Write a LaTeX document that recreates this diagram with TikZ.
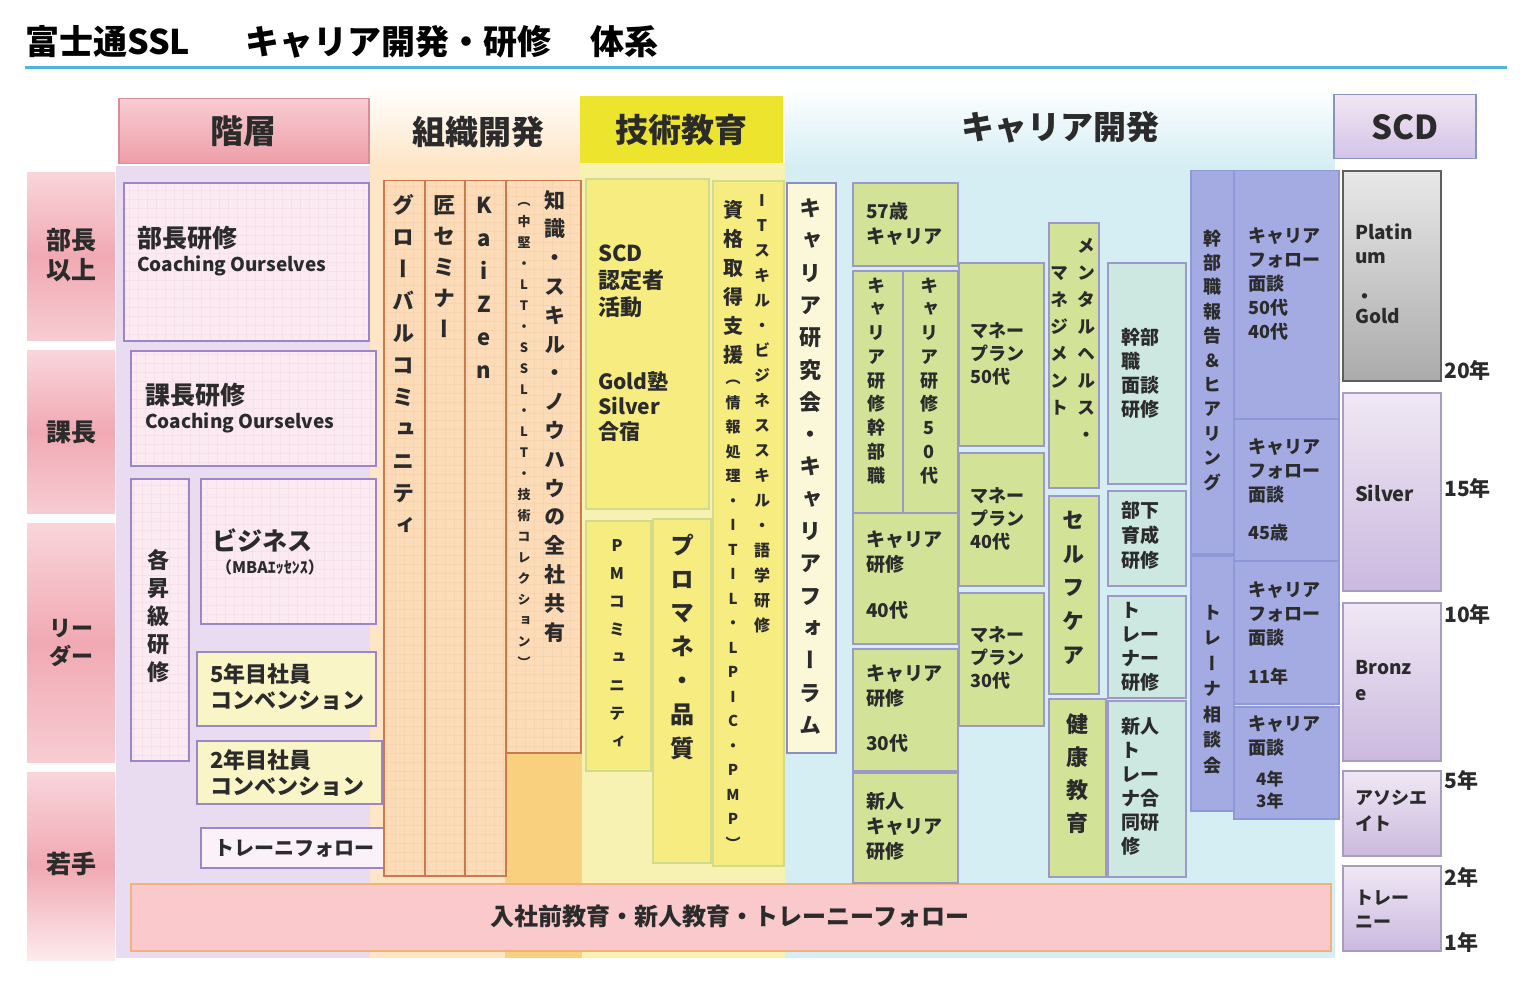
\documentclass[tikz,border=0pt]{standalone}
\usepackage{fontspec}
\setmainfont{Noto Sans CJK JP}
\newfontfamily\jpv{Noto Sans CJK JP}[RawFeature=+vert]
\newcommand\fs[2]{\fontsize{#1}{#2}\selectfont}
\makeatletter
\newcommand\vt[2]{\vbox{\baselineskip=#1\lineskiplimit=-\maxdimen\lineskip=0pt
  \@tfor\vt@c:=#2\do{\hbox to 1.3em{\hss\vrule width0pt height0.88em depth0.12em\vt@c\hss}}}}
\makeatother
\newcommand\bx[6]{\node[#6, anchor=north west, inner sep=0pt, minimum width={#4-#2}, minimum height={#5-#3}] (#1) at (#2,#3) {};}
\definecolor{tc}{HTML}{2B2B2B}
\definecolor{titleBlue}{HTML}{4DB6D4}
\definecolor{pinkHeadT}{HTML}{F8CCD2}
\definecolor{pinkHeadB}{HTML}{EE9EA8}
\definecolor{pinkHeadD}{HTML}{D88E98}
\definecolor{rowT}{HTML}{F9D5DA}
\definecolor{rowM}{HTML}{F1A9B3}
\definecolor{rowB}{HTML}{F7CCD2}
\definecolor{pBoxF}{HTML}{FBEAF2}
\definecolor{pBoxD}{HTML}{9C86C6}
\definecolor{yBoxF}{HTML}{FAF5C6}
\definecolor{wBoxF}{HTML}{FAF2F8}
\definecolor{barF}{HTML}{F9C9CB}
\definecolor{barD}{HTML}{F2B27E}
\definecolor{peachF}{HTML}{FCDCB8}
\definecolor{peachD}{HTML}{C97A4E}
\definecolor{techF}{HTML}{F6EC80}
\definecolor{techD}{HTML}{D2DA8C}
\definecolor{crF}{HTML}{FBF8DA}
\definecolor{crD}{HTML}{8E8CC8}
\definecolor{grnF}{HTML}{D2E397}
\definecolor{grnD}{HTML}{9C98C8}
\definecolor{tealF}{HTML}{CDE8E1}
\definecolor{bpF}{HTML}{A4AAE2}
\definecolor{bpD}{HTML}{8F98D6}
\definecolor{platT}{HTML}{E8E8E8}
\definecolor{platB}{HTML}{ABABAB}
\definecolor{platD}{HTML}{5E5E5E}
\definecolor{silT}{HTML}{EFE8F4}
\definecolor{silB}{HTML}{CBB9DF}
\definecolor{silD}{HTML}{A89CC2}
\definecolor{scdHT}{HTML}{F3E6F1}
\definecolor{scdHB}{HTML}{D2C4E8}
\definecolor{scdHD}{HTML}{8A93BC}
\definecolor{techHead}{HTML}{EDE42E}
\definecolor{bandLav}{HTML}{EADCF0}
\definecolor{bandPeach}{HTML}{FDE5C6}
\definecolor{bandYel}{HTML}{F7F2B2}
\definecolor{bandBlue}{HTML}{D5EEF4}
\definecolor{bandOr}{HTML}{F8D07E}
\definecolor{gridP}{HTML}{F6E0EB}
\definecolor{gridO}{HTML}{F8D4AE}
\tikzset{
  txt/.style={inner sep=0pt, text=tc},
  hdr/.style={txt, font={\bfseries\fs{33}{40}}},
  rowtxt/.style={txt, align=center, font={\bfseries\fs{25}{30}}},
  vtx/.style={txt, anchor=north, font={\bfseries\jpv}},
  ml/.style={txt, anchor=north west, align=left},
  yr/.style={txt, anchor=west, font={\bfseries\fs{21}{24}}},
  gridded/.style={path picture={\draw[#1, line width=0.5pt, step=9pt] ([xshift=1pt,yshift=1pt]path picture bounding box.south west) grid (path picture bounding box.north east);}},
  pinkhead/.style={draw=pinkHeadD, line width=1.5pt, top color=pinkHeadT, bottom color=pinkHeadB},
  rowlab/.style={top color=rowT, bottom color=rowB, middle color=rowM},
  pbox/.style={draw=pBoxD, line width=2pt, fill=pBoxF, gridded=gridP},
  ybox/.style={draw=pBoxD, line width=2pt, fill=yBoxF},
  wbox/.style={draw=pBoxD, line width=2pt, fill=wBoxF},
  barbox/.style={draw=barD, line width=2pt, fill=barF},
  peachbox/.style={draw=peachD, line width=1.5pt, fill=peachF, gridded=gridO},
  techbox/.style={draw=techD, line width=2pt, fill=techF},
  crbox/.style={draw=crD, line width=2pt, fill=crF},
  grnbox/.style={draw=grnD, line width=2pt, fill=grnF},
  tealbox/.style={draw=grnD, line width=2pt, fill=tealF},
  bpbox/.style={draw=bpD, line width=1.5pt, fill=bpF},
  platbox/.style={draw=platD, line width=2pt, top color=platT, bottom color=platB},
  silbox/.style={draw=silD, line width=2pt, top color=silT, bottom color=silB},
  scdhead/.style={draw=scdHD, line width=1.5pt, top color=scdHT, bottom color=scdHB},
  techhead/.style={fill=techHead}
}
\begin{document}
\begin{tikzpicture}[x=1pt,y=-1pt]
\useasboundingbox[fill=white] (0,0) rectangle (1536,987);
% title
\node[txt, anchor=west, font={\bfseries\fs{34}{40}}, text=black] (title1) at (25,42) {富士通SSL};
\node[txt, anchor=west, font={\bfseries\fs{34}{40}}, text=black] (title2) at (245,42) {キャリア開発・研修};
\node[txt, anchor=west, font={\bfseries\fs{34}{40}}, text=black] (title3) at (590,42) {体系};
\fill[titleBlue] (25,66.5) rectangle (1507,69.5);
% background bands
\fill[bandLav] (116,166) rectangle (382,958);
\shade[top color=white, bottom color=bandPeach] (370,86) rectangle (582,166);
\fill[bandPeach] (370,165) rectangle (582,958);
\fill[bandYel] (580,163) rectangle (788,958);
\shade[top color=white, bottom color=bandBlue] (785,86) rectangle (1335,166);
\fill[bandBlue] (785,165) rectangle (1335,958);
\fill[bandOr] (505,752) rectangle (582,958);
% headers
\bx{hHier}{118}{98}{368}{163}{pinkhead}
\node[hdr] (hHierT) at (hHier) {階層};
\node[hdr] (hOrgT) at (478,132) {組織開発};
\bx{hTech}{580}{96}{783}{163}{techhead}
\node[hdr] (hTechT) at (hTech) {技術教育};
\node[hdr] (hCarT) at (1060,127) {キャリア開発};
\bx{hSCD}{1333}{94}{1475}{158}{scdhead}
\node[hdr] (hSCDT) at (hSCD) {SCD};
% row labels
\bx{rBucho}{27}{172}{115}{340}{rowlab}
\node[rowtxt] (rBuchoT) at (71,255) {部長\\以上};
\bx{rKacho}{27}{350}{115}{513}{rowlab}
\node[rowtxt] (rKachoT) at (71,432) {課長};
\bx{rLeader}{27}{523}{115}{762}{rowlab}
\node[rowtxt, font={\bfseries\fs{22}{28}}] (rLeaderT) at (71,643) {リー\\ダー};
\bx{rYoung}{27}{772}{115}{960}{rowlab, top color=rowT, bottom color=rowB!40!white, middle color=rowM}
\node[rowtxt] (rYoungT) at (71,864) {若手};
% hierarchy column
\bx{bBucho}{123}{182}{368}{340}{pbox}
\node[txt, anchor=west, font={\bfseries\fs{25}{30}}] (bBuchoT) at (137,238) {部長研修};
\node[txt, anchor=west, font={\bfseries\fs{19}{22}}] (bBuchoE) at (137,266) {Coaching Ourselves};
\bx{bKacho}{130}{350}{375}{465}{pbox}
\node[txt, anchor=west, font={\bfseries\fs{25}{30}}] (bKachoT) at (145,395) {課長研修};
\node[txt, anchor=west, font={\bfseries\fs{19}{22}}] (bKachoE) at (145,423) {Coaching Ourselves};
\bx{bShokyu}{130}{478}{188}{760}{pbox}
\node[vtx, font={\bfseries\jpv\fs{22}{26}}] (bShokyuT) at (158,549) {\vt{28pt}{各昇級研修}};
\bx{bBiz}{200}{478}{375}{623}{pbox}
\node[txt, anchor=west, font={\bfseries\fs{25}{30}}] (bBizT) at (212,540) {ビジネス};
\node[txt, anchor=west, font={\bfseries\fs{16}{20}}] (bBizE) at (216,567) {（MBAｴｯｾﾝｽ）};
\bx{b5y}{196}{651}{375}{725}{ybox}
\node[ml, font={\bfseries\fs{22}{26}}] (b5yT) at (210,663) {5年目社員\\コンベンション};
\bx{b2y}{196}{740}{381}{803}{ybox}
\node[ml, font={\bfseries\fs{22}{26}}] (b2yT) at (210,749) {2年目社員\\コンベンション};
\bx{bTrF}{200}{827}{386}{867}{wbox}
\node[txt, font={\bfseries\fs{20}{24}}] (bTrFT) at (bTrF) {トレーニフォロー};
% bottom bar
\bx{bBar}{130}{883}{1330}{950}{barbox}
\node[txt, font={\bfseries\fs{24}{28}}] (bBarT) at (730,916) {入社前教育・新人教育・トレーニーフォロー};
% org development columns
\bx{oGlobal}{383}{180}{424}{875}{peachbox}
\node[vtx, font={\bfseries\jpv\fs{22}{26}}] (oGlobalT) at (403,194) {\vt{32pt}{グローバルコミュニティ}};
\bx{oTakumi}{424}{180}{464}{875}{peachbox}
\node[vtx, font={\bfseries\jpv\fs{22}{26}}] (oTakumiT) at (444,194) {\vt{31pt}{匠セミナー}};
\bx{oKaizen}{464}{180}{505}{875}{peachbox}
\node[vtx, font={\bfseries\jpv\fs{22}{26}}] (oKaizenT) at (484,194) {\vt{33pt}{KaiZen}};
\bx{oKnow}{505}{180}{580}{752}{peachbox}
\node[vtx, font={\bfseries\jpv\fs{21}{26}}] (oKnowT) at (555,189.5) {\vt{28.8pt}{知識・スキル・ノウハウの全社共有}};
\node[vtx, font={\bfseries\jpv\fs{13}{16}}] (oKnowS) at (524,193.5) {\vt{21pt}{（中堅・LT・SSL・LT・技術コレクション）}};
% technical education
\bx{tSCD}{585}{178}{708}{508}{techbox}
\node[ml, font={\bfseries\fs{22}{27}}] (tSCDT) at (598,245) {SCD\\認定者\\活動};
\node[ml, font={\bfseries\fs{21}{25}}] (tSCDG) at (598,371) {Gold塾\\Silver\\合宿};
\bx{tPM}{585}{520}{650}{770}{techbox}
\node[vtx, font={\bfseries\jpv\fs{16}{20}}] (tPMT) at (617,537) {\vt{28pt}{PMコミュニティ}};
\bx{tPro}{652}{518}{710}{862}{techbox}
\node[vtx, font={\bfseries\jpv\fs{24}{28}}] (tProT) at (682,533) {\vt{33.8pt}{プロマネ・品質}};
\bx{tQual}{712}{180}{783}{865}{techbox}
\node[vtx, font={\bfseries\jpv\fs{20}{24}}] (tQualT) at (733,200) {\vt{29pt}{資格取得支援}};
\node[vtx, font={\bfseries\jpv\fs{15}{18}}] (tQualS) at (733,370.5) {\vt{24.5pt}{（情報処理・ITIL・LPIC・PMP）}};
\node[vtx, font={\bfseries\jpv\fs{16}{20}}] (tITT) at (762,192) {\vt{25pt}{ITスキル・ビジネススキル・語学研修}};
% career research
\bx{cRes}{786}{182}{835}{752}{crbox}
\node[vtx, font={\bfseries\jpv\fs{22}{26}}] (cResT) at (810,197) {\vt{32.3pt}{キャリア研究会・キャリアフォーラム}};
% career development green
\bx{g57}{852}{182}{957}{265}{grnbox}
\node[ml, font={\bfseries\fs{19}{25}}] (g57T) at (866,202) {57歳\\キャリア};
\bx{gExec}{852}{270}{902}{512}{grnbox}
\node[vtx, font={\bfseries\jpv\fs{18}{22}}] (gExecT) at (876,276) {\vt{23.75pt}{キャリア研修幹部職}};
\bx{g50}{902}{270}{957}{512}{grnbox}
\node[vtx, font={\bfseries\jpv\fs{18}{22}}] (g50T) at (929,276) {\vt{23.75pt}{キャリア研修50代}};
\bx{g40}{852}{512}{957}{643}{grnbox}
\node[ml, font={\bfseries\fs{19}{25}}] (g40T) at (866,531) {キャリア\\研修\\[21pt]40代};
\bx{g30}{852}{648}{957}{770}{grnbox}
\node[ml, font={\bfseries\fs{19}{25}}] (g30T) at (866,665) {キャリア\\研修\\[20pt]30代};
\bx{gNew}{852}{772}{957}{882}{grnbox}
\node[ml, font={\bfseries\fs{19}{25}}] (gNewT) at (866,792) {新人\\キャリア\\研修};
\bx{m50}{958}{262}{1043}{445}{grnbox}
\node[ml, font={\bfseries\fs{18}{23}}] (m50T) at (970,322) {マネー\\プラン\\50代};
\bx{m40}{958}{452}{1043}{585}{grnbox}
\node[ml, font={\bfseries\fs{18}{23}}] (m40T) at (970,487) {マネー\\プラン\\40代};
\bx{m30}{958}{592}{1043}{725}{grnbox}
\node[ml, font={\bfseries\fs{18}{23}}] (m30T) at (970,626) {マネー\\プラン\\30代};
\bx{hMent}{1048}{222}{1098}{487}{grnbox}
\node[vtx, font={\bfseries\jpv\fs{18}{22}}] (hMentA) at (1086,236) {\vt{27pt}{メンタルヘルス・}};
\node[vtx, font={\bfseries\jpv\fs{18}{22}}] (hMentB) at (1059,263) {\vt{27pt}{マネジメント}};
\bx{hSelf}{1048}{495}{1098}{693}{grnbox}
\node[vtx, font={\bfseries\jpv\fs{22}{26}}] (hSelfT) at (1073,509) {\vt{33.7pt}{セルフケア}};
\bx{hHealth}{1048}{698}{1105}{876}{grnbox}
\node[vtx, font={\bfseries\jpv\fs{22}{26}}] (hHealthT) at (1077,713) {\vt{33pt}{健康教育}};
\bx{tExec}{1107}{262}{1185}{483}{tealbox}
\node[ml, font={\bfseries\fs{19}{24}}] (tExecT) at (1121,328) {幹部\\職\\面談\\研修};
\bx{tSub}{1107}{490}{1185}{585}{tealbox}
\node[ml, font={\bfseries\fs{19}{25}}] (tSubT) at (1121,501) {部下\\育成\\研修};
\bx{tTrainer}{1107}{595}{1185}{697}{tealbox}
\node[ml, font={\bfseries\fs{19}{24}}] (tTrainerT) at (1121,602) {ト\\レー\\ナー\\研修};
\bx{tJoint}{1107}{700}{1185}{876}{tealbox}
\node[ml, font={\bfseries\fs{19}{24}}] (tJointT) at (1121,717) {新人\\ト\\レー\\ナ合\\同研\\修};
% blue-purple
\bx{pExec}{1190}{170}{1233}{553}{bpbox}
\node[vtx, font={\bfseries\jpv\fs{18}{22}}] (pExecT) at (1212,229) {\vt{24.4pt}{幹部職報告＆ヒアリング}};
\bx{pTrainer}{1190}{555}{1233}{810}{bpbox}
\node[vtx, font={\bfseries\jpv\fs{18}{22}}] (pTrainerT) at (1212,603) {\vt{25.5pt}{トレーナ相談会}};
\bx{pF50}{1233}{170}{1338}{418}{bpbox}
\node[ml, font={\bfseries\fs{18}{24}}] (pF50T) at (1248,227) {キャリア\\フォロー\\面談\\50代\\40代};
\bx{pF45}{1233}{418}{1338}{560}{bpbox}
\node[ml, font={\bfseries\fs{18}{24}}] (pF45T) at (1248,438) {キャリア\\フォロー\\面談\\[14pt]45歳};
\bx{pF11}{1233}{560}{1338}{703}{bpbox}
\node[ml, font={\bfseries\fs{18}{24}}] (pF11T) at (1248,581) {キャリア\\フォロー\\面談\\[15pt]11年};
\bx{pF4}{1233}{706}{1338}{818}{bpbox}
\node[ml, font={\bfseries\fs{18}{24}}] (pF4T) at (1248,715) {キャリア\\面談};
\node[ml, font={\bfseries\fs{17}{22}}] (pF4Y) at (1256,771) {4年\\3年};
% SCD levels
\bx{sPlat}{1342}{170}{1440}{380}{platbox}
\node[ml, font={\bfseries\fs{19}{24}}] (sPlatT) at (1355,224) {Platin\\um\\[16pt]・\\[-4pt]Gold};
\bx{sSilver}{1342}{392}{1440}{590}{silbox}
\node[txt, anchor=west, font={\bfseries\fs{20}{24}}] (sSilverT) at (1355,493) {Silver};
\bx{sBronze}{1342}{602}{1440}{760}{silbox}
\node[ml, font={\bfseries\fs{19}{26}}] (sBronzeT) at (1355,660) {Bronz\\e};
\bx{sAssoc}{1342}{770}{1440}{855}{silbox}
\node[ml, font={\bfseries\fs{18}{26}}] (sAssocT) at (1355,790) {アソシエ\\イト};
\bx{sTrainee}{1342}{865}{1440}{950}{silbox}
\node[ml, font={\bfseries\fs{18}{24}}] (sTraineeT) at (1355,890) {トレー\\ニー};
% years
\node[yr] (y20) at (1444,370) {20年};
\node[yr] (y15) at (1444,488) {15年};
\node[yr] (y10) at (1444,614) {10年};
\node[yr] (y5) at (1444,780) {5年};
\node[yr] (y2) at (1444,877) {2年};
\node[yr] (y1) at (1444,942) {1年};
\end{tikzpicture}
\end{document}
